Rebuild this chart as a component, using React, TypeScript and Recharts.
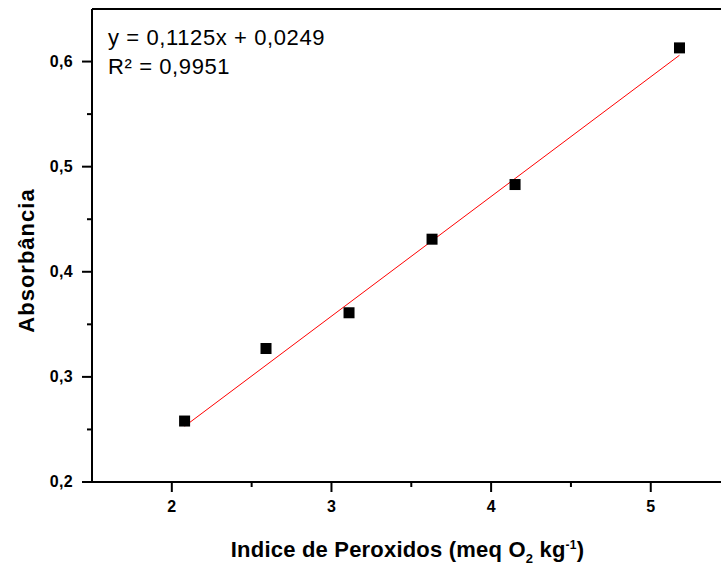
import React from "react";
import {
  ScatterChart,
  Scatter,
  XAxis,
  YAxis,
  ReferenceLine,
  Customized,
} from "recharts";

// measured points (peroxide index vs absorbance)
const peroxideIndex = [2.08, 2.59, 3.11, 3.63, 4.15, 5.18];
const absorbance = [0.258, 0.327, 0.361, 0.431, 0.483, 0.613];

// ends of the linear fit
const fitX = [2.08, 5.18];
const fitY = [0.253, 0.606];

const xTicks = [2, 2.5, 3, 3.5, 4, 4.5, 5];
const yTicks = [0.2, 0.25, 0.3, 0.35, 0.4, 0.45, 0.5, 0.55, 0.6];
const equationLines = ["y = 0,1125x + 0,0249", "R² = 0,9951"];

const points = peroxideIndex.map((x, i) => ({ x, y: absorbance[i] }));
const fitLine = fitX.map((x, i) => ({ x, y: fitY[i] }));

const FONT = "'Liberation Sans', Arial, sans-serif";

const isMajorX = (v: number) => Math.abs(v - Math.round(v)) < 1e-6;
const isMajorY = (v: number) => Math.abs(v * 10 - Math.round(v * 10)) < 1e-6;

function XTick({ x, y, payload }: any) {
  const major = isMajorX(payload.value);
  return (
    <g>
      <line x1={x} x2={x} y1={y} y2={y + (major ? 10 : 5)} stroke="#000" strokeWidth={2} />
      {major && (
        <text x={x} y={y + 30} textAnchor="middle" fontFamily={FONT} fontWeight="bold" fontSize={16} fill="#000">
          {payload.value}
        </text>
      )}
    </g>
  );
}

function YTick({ x, y, payload }: any) {
  const major = isMajorY(payload.value);
  return (
    <g>
      <line x1={x} x2={x - (major ? 10 : 5)} y1={y} y2={y} stroke="#000" strokeWidth={2} />
      {major && (
        <text
          x={x - 19}
          y={y + 5}
          textAnchor="end"
          fontFamily={FONT}
          fontWeight="bold"
          fontSize={16}
          letterSpacing={0.3}
          fill="#000"
        >
          {payload.value.toFixed(1).replace(".", ",")}
        </text>
      )}
    </g>
  );
}

function SquareDot({ cx, cy }: any) {
  return <rect x={cx - 5.5} y={cy - 5.5} width={11} height={11} fill="#000" />;
}

function XTitle({ viewBox }: any) {
  const cx = viewBox.x + viewBox.width / 2 + 1;
  const y = viewBox.y + 75;
  return (
    <text
      x={cx}
      y={y}
      textAnchor="middle"
      fontFamily={FONT}
      fontWeight="bold"
      fontSize={22}
      letterSpacing={0.2}
      fill="#000"
    >
      Indice de Peroxidos (meq O
      <tspan dy={6} fontSize={13}>2</tspan>
      <tspan dy={-6}> kg</tspan>
      <tspan dy={-8} fontSize={12}>-1</tspan>
      <tspan dy={8}>)</tspan>
    </text>
  );
}

function YTitle({ viewBox }: any) {
  const cx = 26;
  const cy = viewBox.y + viewBox.height / 2 + 15;
  return (
    <text
      x={cx}
      y={cy}
      transform={`rotate(-90, ${cx}, ${cy})`}
      textAnchor="middle"
      dominantBaseline="central"
      fontFamily={FONT}
      fontWeight="bold"
      fontSize={22}
      letterSpacing={1}
      fill="#000"
    >
      Absorbância
    </text>
  );
}

function Equation() {
  return (
    <g>
      {equationLines.map((t, i) => (
        <text key={i} x={108} y={45 + i * 29} fontFamily={FONT} fontSize={22} letterSpacing={0.6} fill="#000">
          {t}
        </text>
      ))}
    </g>
  );
}

export default function App() {
  return (
    <div style={{ position: "absolute", left: 0, top: 0, background: "#fff" }}>
      <ScatterChart width={721} height={565} margin={{ top: 9, right: 0, left: 32, bottom: 43 }}>
        <XAxis
          type="number"
          dataKey="x"
          domain={[1.5, 5.44]}
          ticks={xTicks}
          tickSize={0}
          tickMargin={0}
          tickLine={false}
          tick={<XTick />}
          height={40}
          axisLine={{ stroke: "#000", strokeWidth: 2 }}
          allowDataOverflow
          label={<XTitle />}
        />
        <YAxis
          type="number"
          dataKey="y"
          domain={[0.2, 0.65]}
          ticks={yTicks}
          tickSize={0}
          tickMargin={0}
          tickLine={false}
          tick={<YTick />}
          width={60}
          axisLine={{ stroke: "#000", strokeWidth: 2 }}
          allowDataOverflow
          label={<YTitle />}
        />
        <ReferenceLine y={0.65} stroke="#000" strokeWidth={2} />
        <Scatter
          data={fitLine}
          line={{ stroke: "#ff0000", strokeWidth: 1 }}
          shape={() => null}
          isAnimationActive={false}
        />
        <Scatter data={points} shape={<SquareDot />} isAnimationActive={false} />
        <Customized component={Equation} />
      </ScatterChart>
    </div>
  );
}
